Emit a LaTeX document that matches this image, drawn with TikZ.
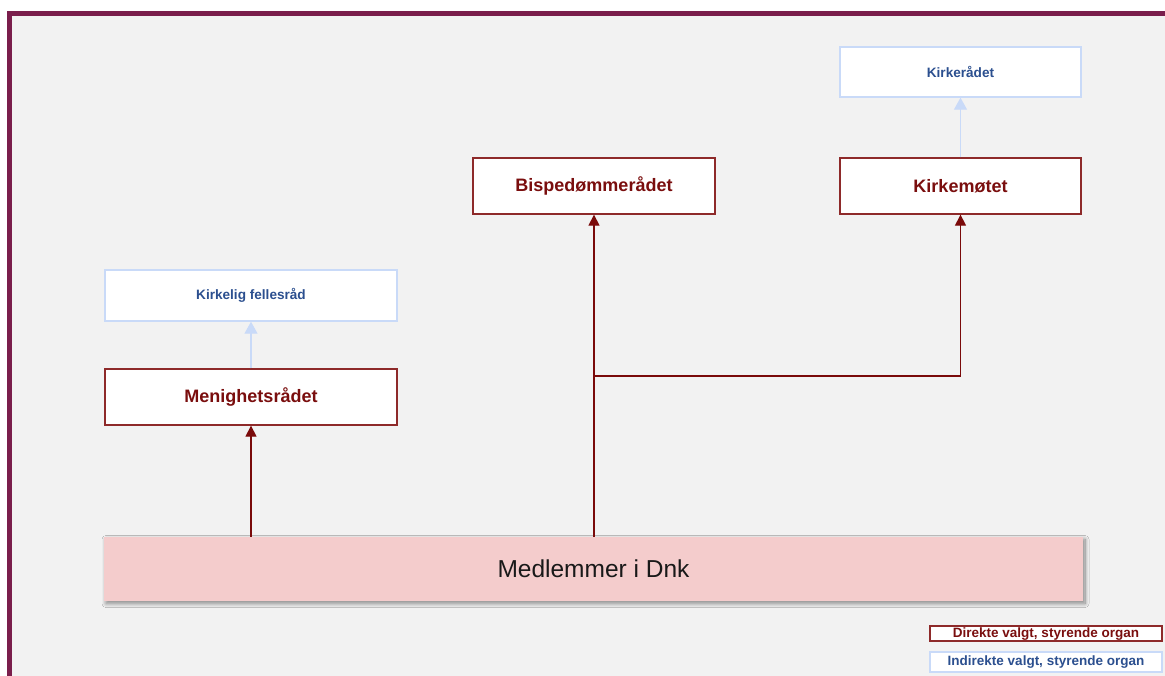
\documentclass[tikz,border=0pt]{standalone}
\usepackage{fontspec}
\setmainfont{Liberation Sans}
\usetikzlibrary{arrows.meta,shadows.blur}
\definecolor{framec}{HTML}{7A1E4C}
\definecolor{bgc}{HTML}{F2F2F2}
\definecolor{redline}{HTML}{8E2A2A}
\definecolor{redtext}{HTML}{7A0E0E}
\definecolor{arrowred}{HTML}{7A0A0A}
\definecolor{blueline}{HTML}{C9DAF8}
\definecolor{bluetext}{HTML}{2B4F8F}
\definecolor{pinkc}{HTML}{F4CCCC}
\tikzset{
  x=1pt, y=-1pt,
  direct/.style={draw=redline, line width=1.3pt, fill=white, text=redtext,
    font=\fontsize{18}{20}\selectfont\bfseries, inner sep=0pt},
  indirect/.style={draw=blueline, line width=1.4pt, fill=white, text=bluetext,
    font=\fontsize{13.6}{15}\selectfont\bfseries, inner sep=0pt},
  member/.style={fill=pinkc, draw=none, text=black!90,
    font=\fontsize{24.5}{27}\selectfont, inner sep=0pt,
    blur shadow={shadow xshift=2pt, shadow yshift=-2.5pt, shadow blur steps=14, shadow blur radius=4pt, shadow opacity=45}},
  redarrow/.style={draw=arrowred, line width=1.2pt, -{Triangle[width=11pt,length=11pt]}},
  bluearrow/.style={draw=blueline, line width=1.2pt, -{Triangle[width=13pt,length=12pt]}},
  legdirect/.style={draw=redline, line width=1.2pt, fill=white, text=redtext,
    font=\fontsize{13.5}{14}\selectfont\bfseries, inner sep=0pt, minimum width=232pt},
  legindirect/.style={draw=blueline, line width=1.4pt, fill=white, text=bluetext,
    font=\fontsize{13.5}{14}\selectfont\bfseries, inner sep=0pt, minimum width=232pt},
}
\begin{document}
\begin{tikzpicture}
\useasboundingbox (0,0) rectangle (1165,675);
\clip (0,0) rectangle (1165,675);
\fill[white] (0,0) rectangle (1165,675);
\draw[framec, line width=5pt, fill=bgc] (9.5,13.5) rectangle (1220,720);

\node[indirect, minimum width=241pt, minimum height=50pt] (krad) at (960.5,72) {Kirkerådet};
\node[direct, minimum width=241pt, minimum height=56pt] (kmot) at (960.5,186) {Kirkemøtet};
\node[direct, minimum width=242pt, minimum height=56pt] (bisp) at (594,186) {Bispedømmerådet};
\node[indirect, minimum width=292pt, minimum height=51pt] (kfr) at (251,295.5) {Kirkelig fellesråd};
\node[direct, minimum width=292pt, minimum height=56pt] (men) at (251,397) {Menighetsrådet};
\node[member, minimum width=979pt, minimum height=64pt] (medl) at (593.5,569) {Medlemmer i Dnk};

\node[legdirect, minimum height=15pt, text height=9.5pt, text depth=2.5pt] (l1) at (1046,633.5) {Direkte valgt, styrende organ};
\node[legindirect, minimum height=20pt, text height=9.5pt, text depth=2.5pt] (l2) at (1046,662) {Indirekte valgt, styrende organ};

\draw[bluearrow] (kmot.north) -- (krad.south);
\draw[bluearrow] (men.north) -- (kfr.south);

\draw[redarrow] (men.south |- medl.north) -- (men.south);
\draw[redarrow] (bisp.south |- medl.north) -- (bisp.south);
\coordinate (j) at (594,376);
\draw[redarrow] (j) -| (kmot.south);
\end{tikzpicture}
\end{document}
